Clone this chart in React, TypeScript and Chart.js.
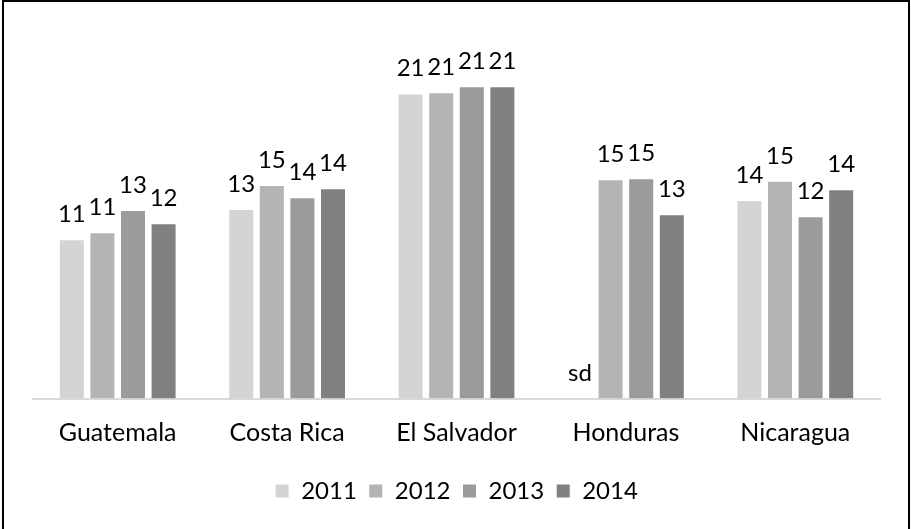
import React, { useEffect, useRef } from "react";
import { Chart, registerables } from "chart.js";

Chart.register(...registerables);

const categories = ["Guatemala", "Costa Rica", "El Salvador", "Honduras", "Nicaragua"];
const seriesNames = ["2011", "2012", "2013", "2014"];
const values2011: (number | null)[] = [10.9, 12.97, 20.87, null, 13.58];
const values2012: (number | null)[] = [11.37, 14.6, 20.94, 15.0, 14.9];
const values2013: (number | null)[] = [12.9, 13.77, 21.35, 15.06, 12.47];
const values2014: (number | null)[] = [11.99, 14.38, 21.35, 12.6, 14.31];
const seriesColors = ["#D4D4D4", "#B4B4B4", "#9B9B9B", "#808080"];
const missingLabel = "sd";

const FONT = "Lato, 'Noto Sans', sans-serif";

const dataLabelPlugin = {
  id: "dataLabels",
  afterDatasetsDraw(chart: any) {
    const ctx = chart.ctx;
    const yScale = chart.scales.y;
    ctx.save();
    ctx.font = `24px ${FONT}`;
    ctx.fillStyle = "#000000";
    ctx.textAlign = "center";
    ctx.textBaseline = "alphabetic";
    chart.data.datasets.forEach((ds: any, di: number) => {
      const meta = chart.getDatasetMeta(di);
      meta.data.forEach((el: any, i: number) => {
        const v = ds.data[i];
        if (v === null || v === undefined) {
          const y0 = yScale.getPixelForValue(0);
          ctx.fillText(missingLabel, el.x, y0 - 18);
        } else {
          ctx.fillText(String(Math.round(v)), el.x, el.y - 17);
        }
      });
    });
    ctx.restore();
  },
};

export default function App() {
  const canvasRef = useRef<HTMLCanvasElement | null>(null);

  useEffect(() => {
    document.body.style.margin = "0";
    const canvas = canvasRef.current;
    if (!canvas) return;
    const allValues = [values2011, values2012, values2013, values2014];
    const chart = new Chart(canvas, {
      type: "bar",
      data: {
        labels: categories,
        datasets: seriesNames.map((name, i) => ({
          label: name,
          data: allValues[i],
          backgroundColor: seriesColors[i],
          borderColor: "#FFFFFF",
          borderWidth: 1,
          categoryPercentage: 0.7225,
          barPercentage: 0.85,
        })),
      },
      options: {
        responsive: true,
        maintainAspectRatio: false,
        animation: false,
        layout: { padding: { left: 33, right: 31, top: 33, bottom: 16 } },
        plugins: {
          legend: {
            position: "bottom",
            labels: {
              boxWidth: 14,
              boxHeight: 14,
              padding: 12,
              color: "#000000",
              font: { family: FONT, size: 24 },
            },
          },
          tooltip: { enabled: false },
        },
        scales: {
          x: {
            grid: { display: false, drawTicks: false },
            border: { display: true, color: "#D9D9D9", width: 2 },
            ticks: {
              color: "#000000",
              padding: 11,
              font: { family: FONT, size: 25, lineHeight: 1.86 },
            },
          },
          y: {
            display: false,
            min: 0,
            max: 25,
          },
        },
      },
      plugins: [dataLabelPlugin],
    });
    return () => chart.destroy();
  }, []);

  return (
    <div style={{ position: "fixed", left: 0, top: 0, width: 911, height: 529, background: "#FFFFFF" }}>
      <canvas ref={canvasRef} />
      <div
        style={{
          position: "absolute",
          left: 2,
          top: 0,
          width: 908,
          height: 560,
          border: "2px solid #000000",
          boxSizing: "border-box",
          pointerEvents: "none",
        }}
      />
    </div>
  );
}
